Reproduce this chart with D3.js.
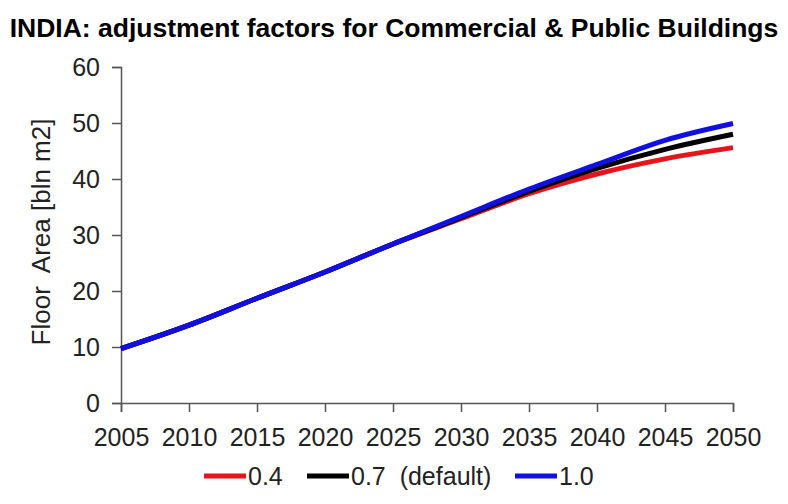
<!DOCTYPE html>
<html lang="en">
<head>
    <meta charset="UTF-8">
    <title>India floor area</title>
    <script src="https://d3js.org/d3.v7.min.js"></script>
    <style>
        body { margin: 0; background: #fff; }
        svg { display: block; font-family: "Liberation Sans", Arial, sans-serif; }
        .tick text { font-size: 25px; fill: #222; }
        .domain, .tick line { stroke: #555; stroke-width: 1.5; }
    </style>
</head>
<body>
    <svg width="788" height="504"></svg>
    <script>
        // data
        const years = [2005, 2010, 2015, 2020, 2025, 2030, 2035, 2040, 2045, 2050];
        const factor04 = [9.7, 13.9, 18.7, 23.4, 28.4, 32.9, 37.4, 40.9, 43.6, 45.6];
        const factor07 = [9.7, 13.9, 18.7, 23.4, 28.4, 33.1, 37.8, 41.9, 45.3, 48.0];
        const factor10 = [9.7, 13.9, 18.7, 23.4, 28.4, 33.3, 38.2, 42.6, 46.9, 49.9];
        const yTicks = [0, 10, 20, 30, 40, 50, 60];
        const seriesNames = ["0.4", "0.7  (default)", "1.0"];
        const seriesColors = ["#e8141b", "#000000", "#1010e0"];

        const series = [factor04, factor07, factor10].map((vals, i) => ({
            name: seriesNames[i],
            color: seriesColors[i],
            values: years.map((yr, j) => ({year: yr, value: vals[j]}))
        }));

        const svg = d3.select("svg");

        const x = d3.scaleLinear().domain([2005, 2050]).range([121, 733]);
        const y = d3.scaleLinear().domain([0, 60]).range([403, 67]);

        // title
        svg.append("text")
           .attr("x", 394)
           .attr("y", 37)
           .attr("text-anchor", "middle")
           .style("font-size", "26.5px")
           .style("font-weight", "bold")
           .text("INDIA: adjustment factors for Commercial & Public Buildings");

        // axes
        svg.append("g")
           .attr("transform", "translate(0,403)")
           .call(d3.axisBottom(x).tickValues(years).tickFormat(d3.format("d")).tickSize(9).tickPadding(16));

        svg.append("g")
           .attr("transform", "translate(121,0)")
           .call(d3.axisLeft(y).tickValues(yTicks).tickSize(9).tickPadding(12));

        svg.append("text")
           .attr("transform", "rotate(-90)")
           .attr("x", -232)
           .attr("y", 50)
           .attr("text-anchor", "middle")
           .style("font-size", "26px")
           .style("fill", "#222")
           .style("white-space", "pre")
           .text("Floor  Area [bln m2]");

        // lines
        const line = d3.line()
                       .x(d => x(d.year))
                       .y(d => y(d.value))
                       .curve(d3.curveMonotoneX);

        svg.selectAll(".series")
           .data(series)
           .enter().append("path")
           .attr("class", "series")
           .attr("fill", "none")
           .attr("stroke", d => d.color)
           .attr("stroke-width", 5)
           .attr("d", d => line(d.values));

        // legend
        const legendX = [204, 307, 515];
        const legend = svg.selectAll(".legend")
                          .data(series)
                          .enter().append("g")
                          .attr("class", "legend")
                          .attr("transform", (d, i) => `translate(${legendX[i]},476)`);

        legend.append("line")
              .attr("x1", 0).attr("x2", 42)
              .attr("stroke", d => d.color)
              .attr("stroke-width", 5);

        legend.append("text")
              .attr("x", 44)
              .attr("y", 9)
              .style("font-size", "25px")
              .style("fill", "#222")
              .style("white-space", "pre")
              .text(d => d.name);
    </script>
</body>
</html>
